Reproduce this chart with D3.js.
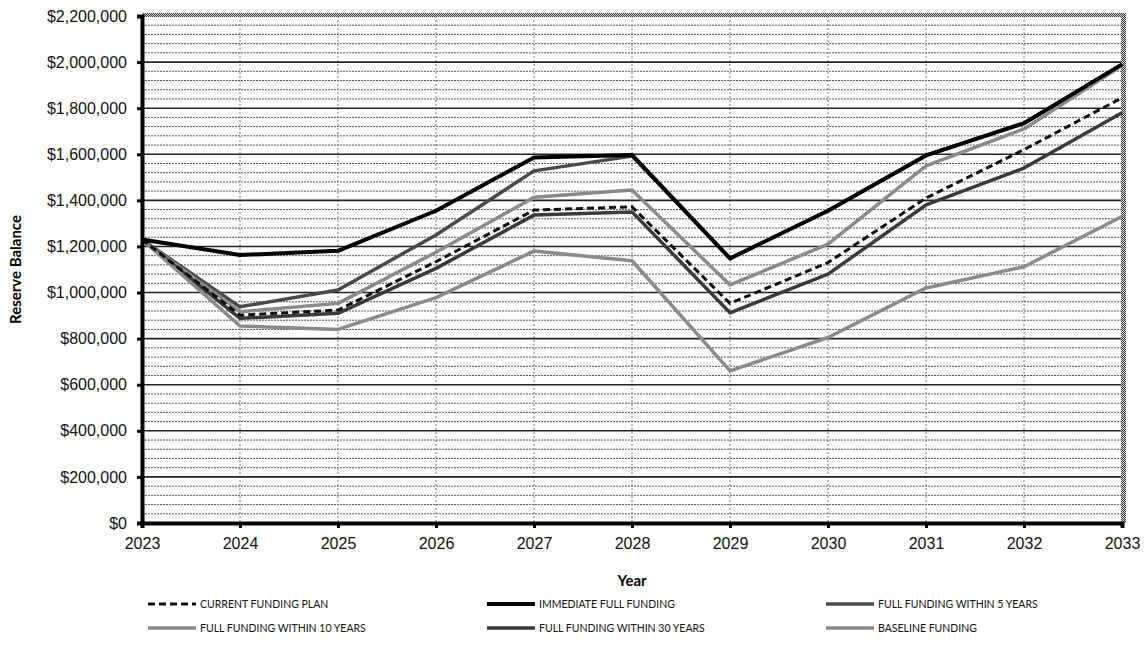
<!DOCTYPE html>
<html>
<head>
<meta charset="utf-8">
<script src="https://cdn.jsdelivr.net/npm/d3@7"></script>
<style>
  body { margin: 0; background: #fff; }
  svg { font-family: Lato, "Liberation Sans", sans-serif; }
</style>
</head>
<body>
<div id="canva"></div>
<script>
const years = [2023, 2024, 2025, 2026, 2027, 2028, 2029, 2030, 2031, 2032, 2033];

const currentPlan = [1230000, 902000, 924000, 1134000, 1358000, 1372000, 953000, 1130000, 1410000, 1620000, 1845000];
const immediateFull = [1230000, 1163000, 1181000, 1355000, 1586000, 1597000, 1148000, 1355000, 1595000, 1735000, 1990000];
const within5 = [1230000, 938000, 1011000, 1250000, 1528000, 1592000, 1148000, 1355000, 1595000, 1735000, 1990000];
const within10 = [1230000, 917000, 953000, 1175000, 1413000, 1445000, 1033000, 1210000, 1550000, 1710000, 1985000];
const within30 = [1230000, 888000, 910000, 1105000, 1336000, 1350000, 912000, 1080000, 1380000, 1540000, 1780000];
const baseline = [1230000, 855000, 840000, 978000, 1180000, 1138000, 660000, 805000, 1020000, 1112000, 1330000];

const yTicks = [0, 200000, 400000, 600000, 800000, 1000000, 1200000, 1400000, 1600000, 1800000, 2000000, 2200000];

// draw order: black solid last so it sits on top where 5-year plan merges into it
const series = [
  { name: "FULL FUNDING WITHIN 5 YEARS", values: within5, color: "#4a4a4a", width: 3.5, dash: null },
  { name: "FULL FUNDING WITHIN 10 YEARS", values: within10, color: "#8a8a8a", width: 3.5, dash: null },
  { name: "FULL FUNDING WITHIN 30 YEARS", values: within30, color: "#3a3a3a", width: 3.5, dash: null },
  { name: "BASELINE FUNDING", values: baseline, color: "#8a8a8a", width: 3.5, dash: null },
  { name: "CURRENT FUNDING PLAN", values: currentPlan, color: "#111", width: 3, dash: "7,4" },
  { name: "IMMEDIATE FULL FUNDING", values: immediateFull, color: "#000", width: 4, dash: null }
];
const legendOrder = [
  "CURRENT FUNDING PLAN", "IMMEDIATE FULL FUNDING", "FULL FUNDING WITHIN 5 YEARS",
  "FULL FUNDING WITHIN 10 YEARS", "FULL FUNDING WITHIN 30 YEARS", "BASELINE FUNDING"
];

const width = 1147, height = 656;
const margin = { top: 16, right: 25, bottom: 133, left: 142 };
const iwidth = width - margin.left - margin.right;
const iheight = height - margin.top - margin.bottom;

const svg = d3.select("#canva").append("svg")
  .attr("width", width)
  .attr("height", height);

const defs = svg.append("defs");
const dither = defs.append("pattern")
  .attr("id", "dither")
  .attr("patternUnits", "userSpaceOnUse")
  .attr("width", 2).attr("height", 2);
dither.append("rect").attr("width", 2).attr("height", 2).attr("fill", "#ddd");
dither.append("rect").attr("width", 1).attr("height", 1).attr("fill", "#333");
dither.append("rect").attr("x", 1).attr("y", 1).attr("width", 1).attr("height", 1).attr("fill", "#333");

const g = svg.append("g")
  .attr("transform", `translate(${margin.left},${margin.top})`);

const x = d3.scaleLinear().domain([years[0], years[years.length - 1]]).range([0, iwidth]);
const y = d3.scaleLinear().domain([0, 2200000]).range([iheight, 0]);

// minor gridlines every 40k
const minor = d3.range(0, 2200001, 40000).filter((v) => v % 200000 !== 0);
g.append("g").selectAll("line").data(minor).enter().append("line")
  .attr("x1", 0).attr("x2", iwidth)
  .attr("y1", (d) => y(d)).attr("y2", (d) => y(d))
  .attr("stroke", "#555").attr("stroke-width", 1).attr("stroke-dasharray", "2,1");

// vertical dotted gridlines
g.append("g").selectAll("line").data(years.slice(1, -1)).enter().append("line")
  .attr("x1", (d) => x(d)).attr("x2", (d) => x(d))
  .attr("y1", 0).attr("y2", iheight)
  .attr("stroke", "#777").attr("stroke-width", 1).attr("stroke-dasharray", "2,2");

// major gridlines
g.append("g").selectAll("line").data(yTicks.slice(1, -1)).enter().append("line")
  .attr("x1", 0).attr("x2", iwidth)
  .attr("y1", (d) => y(d)).attr("y2", (d) => y(d))
  .attr("stroke", "#222").attr("stroke-width", 1.6);

// frame top + right (grey, scanned look)
g.append("rect").attr("x", 0).attr("y", -3).attr("width", iwidth + 3).attr("height", 4).attr("fill", "url(#dither)");
g.append("rect").attr("x", iwidth - 1).attr("y", -3).attr("width", 5).attr("height", iheight + 3).attr("fill", "url(#dither)");

const line = d3.line()
  .x((d, i) => x(years[i]))
  .y((d) => y(d));

g.append("g").selectAll("path").data(series).enter().append("path")
  .attr("d", (d) => line(d.values))
  .attr("fill", "none")
  .attr("stroke", (d) => d.color)
  .attr("stroke-width", (d) => d.width)
  .attr("stroke-dasharray", (d) => d.dash)
  .attr("stroke-linejoin", "round");

// axes
const yAxis = g.append("g").classed("y--axis", true)
  .call(d3.axisLeft(y).tickValues(yTicks).tickFormat(d3.format("$,.0f")).tickSize(5).tickPadding(10));
yAxis.select(".domain").attr("stroke", "#000").attr("stroke-width", 4);
yAxis.selectAll(".tick line").attr("stroke", "#000").attr("stroke-width", 3);
yAxis.selectAll("text").attr("font-size", 16).attr("fill", "#111");

const xAxis = g.append("g").classed("x--axis", true)
  .attr("transform", `translate(0, ${iheight})`)
  .call(d3.axisBottom(x).tickValues(years).tickFormat(d3.format("d")).tickSize(5).tickPadding(10));
xAxis.select(".domain").attr("stroke", "#000").attr("stroke-width", 4);
xAxis.selectAll(".tick line").attr("stroke", "#000").attr("stroke-width", 3);
xAxis.selectAll("text").attr("font-size", 16).attr("fill", "#111");

// titles
svg.append("text")
  .attr("transform", `translate(21, ${margin.top + iheight / 2}) rotate(-90)`)
  .attr("text-anchor", "middle")
  .attr("font-size", 15).attr("font-weight", "bold")
  .text("Reserve Balance");

svg.append("text")
  .attr("x", 632).attr("y", 586)
  .attr("text-anchor", "middle")
  .attr("font-size", 15).attr("font-weight", "bold")
  .text("Year");

// legend
const byName = {};
series.forEach((s) => { byName[s.name] = s; });
const legend = svg.append("g");
legendOrder.forEach((name, i) => {
  const s = byName[name];
  const lx = 148 + (i % 3) * 339;
  const ly = 604 + Math.floor(i / 3) * 24;
  legend.append("line")
    .attr("x1", lx).attr("x2", lx + 48)
    .attr("y1", ly).attr("y2", ly)
    .attr("stroke", s.color)
    .attr("stroke-width", s.width)
    .attr("stroke-dasharray", s.dash);
  legend.append("text")
    .attr("x", lx + 52).attr("y", ly)
    .attr("dy", "0.35em")
    .attr("font-size", 10.5).attr("fill", "#111")
    .text(name);
});
</script>
</body>
</html>
